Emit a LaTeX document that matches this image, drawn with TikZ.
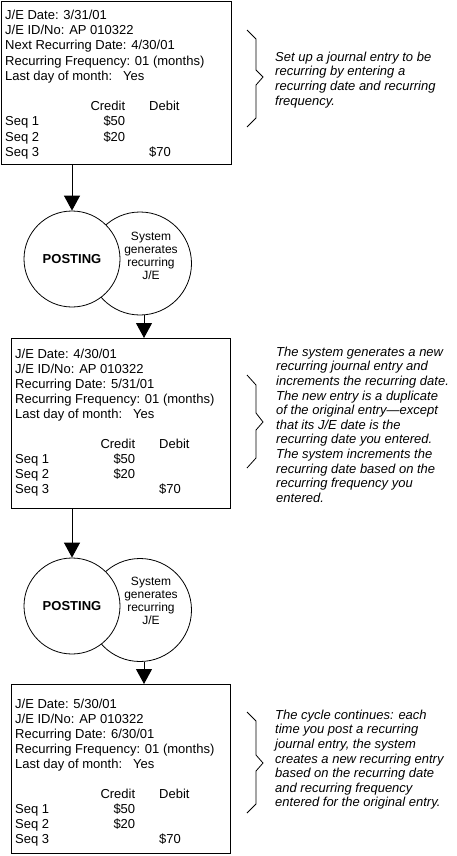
\documentclass[tikz,border=0pt]{standalone}
\usepackage{fontspec}
\setmainfont{Liberation Sans}
\usetikzlibrary{arrows.meta,calc}
\newcommand\jelines[7]{%
\node[jetxt] (#1a) at (#2,#3) {J/E Date: #5};
\node[jetxt] (#1b) at (#2,#3+#4) {J/E ID/No: AP 010322};
\node[jetxt] (#1c) at (#2,#3+2*#4) {#6: #7};
\node[jetxt] (#1d) at (#2,#3+3*#4) {Recurring Frequency: 01 (months)};
\node[jetxt] (#1e) at (#2,#3+4*#4) {\makebox[118pt][l]{Last day of month:}Yes};
\node[jetxt] (#1f) at (#2,#3+6*#4) {\makebox[120pt][r]{Credit}\hspace{24pt}Debit};
\node[jetxt] (#1g) at (#2,#3+7*#4) {\makebox[120pt][l]{Seq 1\hfill\$50}};
\node[jetxt] (#1h) at (#2,#3+8*#4) {\makebox[120pt][l]{Seq 2\hfill\$20}};
\node[jetxt] (#1i) at (#2,#3+9*#4) {\makebox[144pt][l]{Seq 3}\$70};
}
\begin{document}
\begin{tikzpicture}[x=1pt,y=-1pt,
  jebox/.style={draw,line width=1pt,inner sep=0,anchor=north west},
  jetxt/.style={anchor=base west,inner sep=0,font=\fontsize{13}{15}\selectfont},
  note/.style={anchor=north west,inner sep=0,align=left,font=\fontsize{13}{14.6}\selectfont\itshape},
  post/.style={circle,draw,line width=0.8pt,fill=white,inner sep=0,minimum size=96pt,font=\fontsize{13}{15}\selectfont\bfseries},
  gen/.style={circle,draw,line width=0.8pt,inner sep=0,minimum size=103pt},
  gentxt/.style={align=center,inner sep=0,font=\fontsize{12}{13}\selectfont},
  arr/.style={line width=1pt,-{Triangle[width=16pt,length=15pt]}},
  brace/.style={line width=0.8pt}
]
\fill[white] (0,0) rectangle (456,856);
\useasboundingbox (0,0) rectangle (456,856);

% boxes
\node[jebox,minimum width=230.5pt,minimum height=163pt] (b1) at (0.5,1) {};
\node[jebox,minimum width=219pt,minimum height=170pt] (b2) at (11,338) {};
\node[jebox,minimum width=219pt,minimum height=169pt] (b3) at (11,684) {};

\jelines{t1}{5}{19.5}{15.2}{3/31/01}{Next Recurring Date}{4/30/01}
\jelines{t2}{15}{358.5}{15}{4/30/01}{Recurring Date}{5/31/01}
\jelines{t3}{15}{708.5}{15}{5/30/01}{Recurring Date}{6/30/01}

% circles group 1
\node[gen] (g1) at (140,263.5) {};
\node[post] (p1) at (72,259) {POSTING};
\node[gentxt] (g1t) at (151,255.5) {System\\generates\\recurring\\J/E};

% circles group 2
\node[gen] (g2) at (140,610) {};
\node[post] (p2) at (72,606) {POSTING};
\node[gentxt] (g2t) at (151,601) {System\\generates\\recurring\\J/E};

% arrows
\draw[arr] (p1.north |- b1.south) -- (p1.north);
\coordinate (g1b) at (144,315);
\draw[arr] (g1b) -- (g1b |- b2.north);
\draw[arr] (p2.north |- b2.south) -- (p2.north);
\coordinate (g2b) at (144,662);
\draw[arr] (g2b) -- (g2b |- b3.north);

% braces
\draw[brace] (247,30) -- (256,39) -- (256,70) -- (263,77) -- (256,85) -- (256,118) -- (247,127);
\draw[brace] (247,375) -- (256,385) -- (256,413) -- (263,422) -- (256,430) -- (256,458) -- (247,468);
\draw[brace] (247,712) -- (256,721) -- (256,755) -- (263,763) -- (256,771) -- (256,804) -- (247,813);

% notes
\node[note] (n1) at (275,50.8) {\strut Set up a journal entry to be\\recurring by entering a\\recurring date and recurring\\frequency.};
\node[note] (n2) at (276,345.8) {\strut The system generates a new\\recurring journal entry and\\increments the recurring date.\\The new entry is a duplicate\\of the original entry—except\\that its J/E date is the\\recurring date you entered.\\The system increments the\\recurring date based on the\\recurring frequency you\\entered.};
\node[note] (n3) at (275,708.8) {\strut The cycle continues: each\\time you post a recurring\\journal entry, the system\\creates a new recurring entry\\based on the recurring date\\and recurring frequency\\entered for the original entry.};
\end{tikzpicture}
\end{document}
